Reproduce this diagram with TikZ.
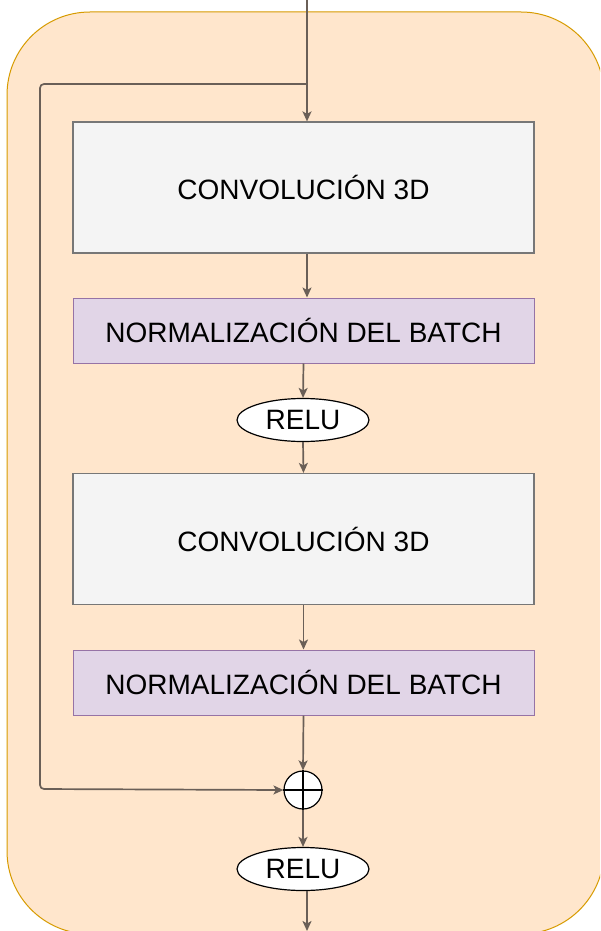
\documentclass[tikz,border=0pt]{standalone}
\usepackage{fontspec}
\setmainfont{Liberation Sans}
\usetikzlibrary{positioning}
\usetikzlibrary{arrows.meta}
\usetikzlibrary{shapes.geometric}
\definecolor{bgfill}{HTML}{FFE6CC}
\definecolor{bgline}{HTML}{D79B00}
\definecolor{convfill}{HTML}{F4F4F4}
\definecolor{convline}{HTML}{777777}
\definecolor{normfill}{HTML}{E1D5E7}
\definecolor{normline}{HTML}{9673A6}
\definecolor{arrowcol}{HTML}{6A5F57}
\tikzset{
        boxnode/.style={align=center,inner sep=0pt,font=\fontsize{28}{31}\selectfont},
        % 3D convolution blocks
        node_conv/.style={boxnode, rectangle, fill=convfill, draw=convline, line width=1.2pt, minimum width=461pt, minimum height=131pt},
        % Batch normalisation blocks
        node_norm/.style={boxnode, rectangle, fill=normfill, draw=normline, line width=1pt, minimum width=461pt, minimum height=65pt},
        % Activations
        node_relu/.style={boxnode, ellipse, fill=white, draw=black, line width=1.2pt, minimum width=132pt, minimum height=43pt},
        % Sum
        node_sum/.style={circle, fill=white, draw=black, line width=1.2pt, minimum size=38pt, inner sep=0pt},
        % Connectors
        conn/.style={draw=arrowcol, line width=1.7pt, -{Stealth[length=10pt,width=9pt,inset=2.5pt]}}
}
\begin{document}
\begin{tikzpicture}[x=1pt, y=-1pt]
    \useasboundingbox (0,0) rectangle (600,931);
    \clip (0,0) rectangle (600,931);
    % background block
    \path[fill=bgfill, draw=bgline, line width=1pt, rounded corners=83pt] (7,12) rectangle (604,934);

    \node[node_conv] (conv1) at (303.5,187.5) {CONVOLUCIÓN 3D};
    \node[node_norm] (norm1) at (303.5,330.5) {NORMALIZACIÓN DEL BATCH};
    \node[node_relu] (relu1) at (303,420) {RELU};
    \node[node_conv] (conv2) at (303.5,539) {CONVOLUCIÓN 3D};
    \node[node_norm] (norm2) at (303.5,682.5) {NORMALIZACIÓN DEL BATCH};
    \node[node_sum] (sum) at (303,790) {};
    \node[node_relu] (relu2) at (303,869) {RELU};

    \coordinate (in) at (307,0);
    \coordinate (split) at (307,84);
    \coordinate (out) at (307,931);

    % cross inside the sum
    \draw[line width=1.2pt] (sum.north) -- (sum.south);
    \draw[line width=1.2pt] (sum.west) -- (sum.east);

    % main path
    \draw[conn] (in) -- (in |- conv1.north);
    \draw[conn] (split |- conv1.south) -- (split |- norm1.north);
    \draw[conn] (norm1.south) -- (relu1.north);
    \draw[conn] (relu1.south) -- (conv2.north);
    \draw[conn] (conv2.south) -- (norm2.north);
    \draw[conn] (norm2.south) -- (sum.north);
    \draw[conn] (sum.south) -- (relu2.north);
    \draw[conn] (out |- relu2.south) -- (out);

    % skip connection
    \draw[conn, rounded corners=4pt] (split) -- (40,84) -- (40,789) -- (sum.west);
\end{tikzpicture}
\end{document}
